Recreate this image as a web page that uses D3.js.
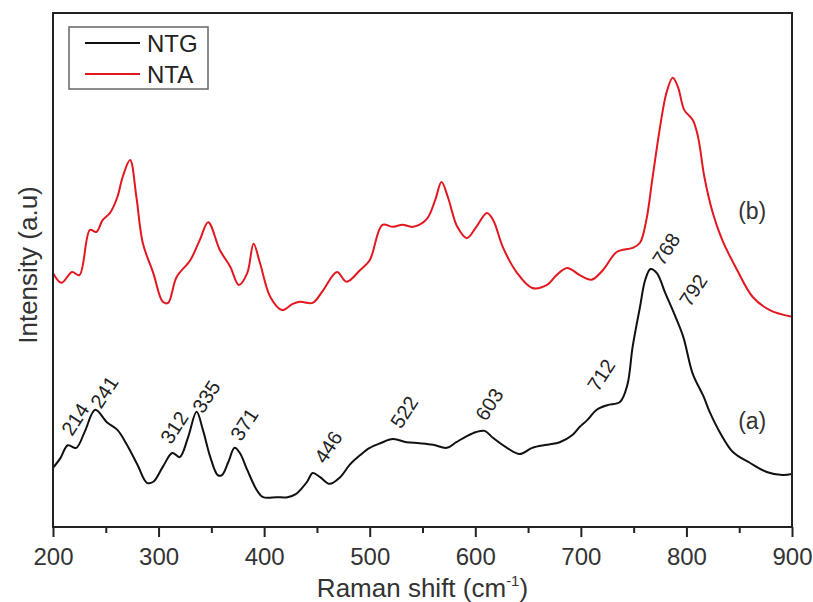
<!DOCTYPE html>
<html>
<head>
<meta charset="utf-8">
<script src="https://cdn.jsdelivr.net/npm/d3@7"></script>
<style>
  body { margin: 0; background: #fff; }
  svg { font-family: Arial, "Liberation Sans", sans-serif; }
</style>
</head>
<body>
<svg id="chart" width="813" height="602"></svg>
<script>
// NTG spectrum (a)
var ntgShift = [200, 207, 214, 222, 230, 240, 251, 261, 270, 280, 289, 295, 304, 313, 320, 328, 336, 342, 349, 356,
  360, 366, 372, 377, 384, 393, 399, 412, 422, 430, 436, 441, 446, 453, 462, 472, 481, 491, 500, 510,
  522, 535, 547, 560, 573, 582, 592, 601, 609, 617, 630, 642, 654, 668, 680, 692, 699, 706, 715, 725,
  737, 744, 749, 756, 761, 766, 772, 780, 789, 797, 806, 816, 822, 832, 844, 860, 876, 891, 900]
var ntgValue = [11.5, 13.4, 15.9, 15.4, 18.5, 22.8, 20.4, 18.9, 16.0, 12.1, 8.6, 8.8, 11.7, 14.4, 13.6, 17.5, 22.4, 18.9, 13.6, 10.1,
  10.1, 12.6, 15.4, 14.4, 11.1, 7.2, 5.8, 5.8, 5.8, 6.4, 7.6, 8.9, 10.5, 9.7, 8.4, 9.7, 12.1, 14.0, 15.4, 16.3,
  17.1, 16.5, 16.3, 16.0, 15.4, 16.5, 17.7, 18.5, 18.7, 17.3, 15.4, 14.2, 15.4, 16.0, 16.5, 17.9, 19.5, 20.8, 22.8, 23.7,
  24.3, 27.6, 35.0, 42.8, 48.1, 50.2, 49.4, 45.5, 41.2, 37.0, 29.8, 25.5, 22.4, 18.3, 14.6, 12.5, 10.7, 10.1, 10.3]

// NTA spectrum (b)
var ntaShift = [200, 208, 218, 225, 235, 241, 247, 254, 261, 266, 273, 279, 285, 295, 304, 309, 317, 330, 339, 347,
  358, 368, 376, 384, 390, 396, 406, 417, 427, 434, 446, 456, 469, 478, 491, 500, 512, 522, 531, 541,
  554, 562, 568, 574, 583, 592, 601, 611, 617, 626, 639, 654, 668, 677, 687, 699, 710, 721, 734, 749,
  756, 762, 768, 775, 781, 787, 792, 798, 806, 811, 817, 825, 834, 848, 863, 879, 900]
var ntaValue = [49.4, 47.5, 49.6, 49.0, 57.8, 57.4, 59.7, 61.1, 64.2, 68.1, 71.4, 64.2, 55.3, 49.4, 43.8, 43.6, 48.6, 51.9, 55.8, 59.3,
  53.9, 50.6, 47.1, 49.4, 55.1, 51.4, 44.7, 42.2, 43.4, 43.8, 43.6, 46.1, 49.6, 47.7, 50.0, 51.9, 58.8, 58.4, 58.8, 58.4,
  59.9, 63.6, 67.1, 64.2, 58.4, 56.2, 58.4, 61.1, 59.7, 54.5, 49.6, 46.5, 47.1, 49.0, 50.4, 49.0, 48.1, 50.0, 53.5, 54.3,
  55.3, 59.7, 68.1, 77.8, 84.4, 87.4, 85.6, 81.1, 79.2, 75.9, 68.1, 61.1, 55.8, 50.0, 44.7, 42.2, 40.9]

// peak annotations on NTG
var peakText = ["214", "241", "312", "335", "371", "446", "522", "603", "712", "768", "792"]
var peakX = [218, 245.5, 311.8, 342.1, 378.1, 457.7, 529.6, 610.2, 716.2, 777.8, 803.4]
var peakY = [17.5, 22.8, 15.9, 21.9, 16.5, 12.1, 18.9, 20.4, 26.1, 50.6, 42.6]

var curveText = ["(a)", "(b)"]
var curveTextX = [849, 849]
var curveTextY = [19.1, 59.9]

var seriesNames = ["NTG", "NTA"]
var seriesColors = ["#111111", "#e3171f"]
var xTicks = [200, 300, 400, 500, 600, 700, 800, 900]
var xMinor = [250, 350, 450, 550, 650, 750, 850]

var svg = d3.select("#chart"),
    margin = {top: 13, right: 21, bottom: 75, left: 53},
    width = +svg.attr("width") - margin.left - margin.right,
    height = +svg.attr("height") - margin.top - margin.bottom,
    g = svg.append("g").attr("transform", "translate(" + margin.left + "," + margin.top + ")")

var x = d3.scaleLinear().domain([200, 900]).range([0, width])
var y = d3.scaleLinear().domain([0, 100]).range([height, 0])

var line = d3.line()
  .x(function(d) { return x(d[0]) })
  .y(function(d) { return y(d[1]) })
  .curve(d3.curveCatmullRom.alpha(0.5))

var series = [
  d3.zip(ntgShift, ntgValue),
  d3.zip(ntaShift, ntaValue)
]

g.append("defs").append("clipPath").attr("id", "clip")
  .append("rect").attr("width", width).attr("height", height)

series.forEach(function(s, i) {
  g.append("path")
    .datum(s)
    .attr("clip-path", "url(#clip)")
    .attr("fill", "none")
    .attr("stroke", seriesColors[i])
    .attr("stroke-width", 2)
    .attr("stroke-linejoin", "round")
    .attr("d", line)
})

// x axis
var xAxis = g.append("g").attr("transform", "translate(0," + height + ")")
  .call(d3.axisBottom(x).tickValues(xTicks).tickSize(10).tickPadding(11).tickFormat(d3.format("d")))
xAxis.select(".domain").remove()
xAxis.selectAll(".tick line").attr("stroke", "#222").attr("stroke-width", 2)
xAxis.selectAll("text").attr("font-size", 24).attr("fill", "#333")
  .style("font-family", "Arial, 'Liberation Sans', sans-serif")

var xMinorAxis = g.append("g").attr("transform", "translate(0," + height + ")")
  .call(d3.axisBottom(x).tickValues(xMinor).tickSize(6).tickFormat(""))
xMinorAxis.select(".domain").remove()
xMinorAxis.selectAll(".tick line").attr("stroke", "#222").attr("stroke-width", 2)

// frame
g.append("rect")
  .attr("width", width).attr("height", height)
  .attr("fill", "none").attr("stroke", "#222").attr("stroke-width", 2)

// axis titles
var xt = g.append("text")
  .attr("x", width / 2).attr("y", height + 70)
  .attr("text-anchor", "middle")
  .attr("font-size", 26).attr("fill", "#333")
xt.append("tspan").text("Raman shift (cm")
xt.append("tspan").text("-1").attr("font-size", 15).attr("dy", -11)
xt.append("tspan").text(")").attr("dy", 11)

g.append("text")
  .attr("transform", "translate(-16," + (265 - margin.top) + ") rotate(-90)")
  .attr("text-anchor", "middle")
  .attr("font-size", 26).attr("fill", "#333")
  .text("Intensity (a.u)")

// peak labels
peakText.forEach(function(t, i) {
  g.append("text")
    .attr("transform", "translate(" + x(peakX[i]) + "," + y(peakY[i]) + ") rotate(-57)")
    .attr("font-size", 20).attr("fill", "#222")
    .text(t)
})

curveText.forEach(function(t, i) {
  g.append("text")
    .attr("x", x(curveTextX[i])).attr("y", y(curveTextY[i]))
    .attr("font-size", 23).attr("fill", "#333")
    .text(t)
})

// legend
var legend = g.append("g").attr("transform", "translate(16,14)")
legend.append("rect")
  .attr("width", 139).attr("height", 62)
  .attr("fill", "#fff").attr("stroke", "#666").attr("stroke-width", 1.5)
seriesNames.forEach(function(n, i) {
  var row = legend.append("g").attr("transform", "translate(0," + (16 + i * 31) + ")")
  row.append("line")
    .attr("x1", 16).attr("x2", 71)
    .attr("stroke", seriesColors[i]).attr("stroke-width", 2)
  row.append("text")
    .attr("x", 78).attr("y", 9)
    .attr("font-size", 24).attr("fill", "#222")
    .text(n)
})
</script>
</body>
</html>
